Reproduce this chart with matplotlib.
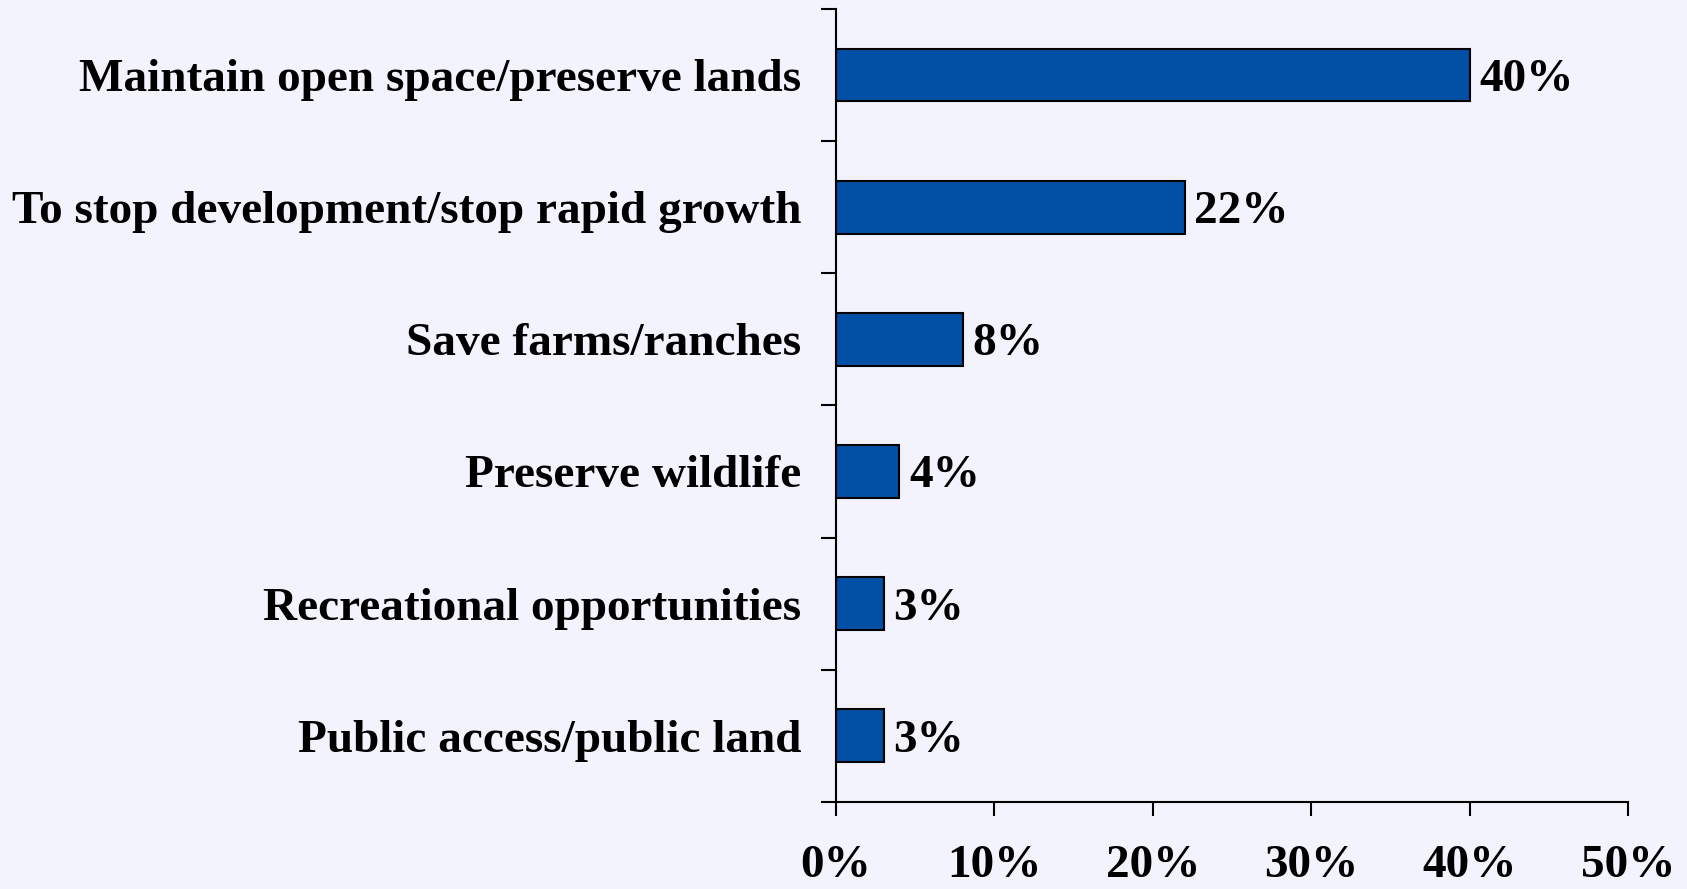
import numpy as np
import matplotlib.pyplot as plt

categories = [
    "Maintain open space/preserve lands",
    "To stop development/stop rapid growth",
    "Save farms/ranches",
    "Preserve wildlife",
    "Recreational opportunities",
    "Public access/public land",
]
values = [40, 22, 8, 4, 3, 3]
xticks = [0, 10, 20, 30, 40, 50]

bg = "#F3F3FD"
bar_color = "#0051A6"

plt.rcParams['font.family'] = ['Liberation Serif', 'DejaVu Serif']
plt.rcParams['font.weight'] = 'bold'

fig = plt.figure(figsize=(16.87, 8.89), dpi=100, facecolor=bg)
ax = fig.add_axes([0.4956, 0.098, 0.4694, 0.892])
ax.set_facecolor(bg)

y = np.arange(len(categories))
ax.barh(y, values, height=0.4, color=bar_color, edgecolor="black", linewidth=1.5)

for yi, v in zip(y, values):
    ax.text(v + 0.6, yi, f"{v}%", va="center_baseline", ha="left", fontsize=34, fontweight="bold")

ax.set_xlim(0, 50)
ax.set_ylim(len(categories) - 0.5, -0.5)

# category boundaries get the ticks, centres get the labels
ax.set_yticks(np.arange(-0.5, len(categories), 1.0))
ax.set_yticklabels([])
ax.set_yticks(y, minor=True)
ax.set_yticklabels(categories, minor=True, fontsize=34, fontweight="bold", va="center_baseline")
ax.tick_params(axis="y", which="major", direction="out", length=11, width=1.5)
ax.tick_params(axis="y", which="minor", length=0, pad=25)

ax.set_xticks(xticks)
ax.set_xticklabels([f"{t}%" for t in xticks], fontsize=34, fontweight="bold")
ax.tick_params(axis="x", direction="out", length=10, width=1.5, pad=21)

for s in ["top", "right"]:
    ax.spines[s].set_visible(False)
for s in ["left", "bottom"]:
    ax.spines[s].set_linewidth(1.5)

fig.savefig("out.png", dpi=100, facecolor=bg)
